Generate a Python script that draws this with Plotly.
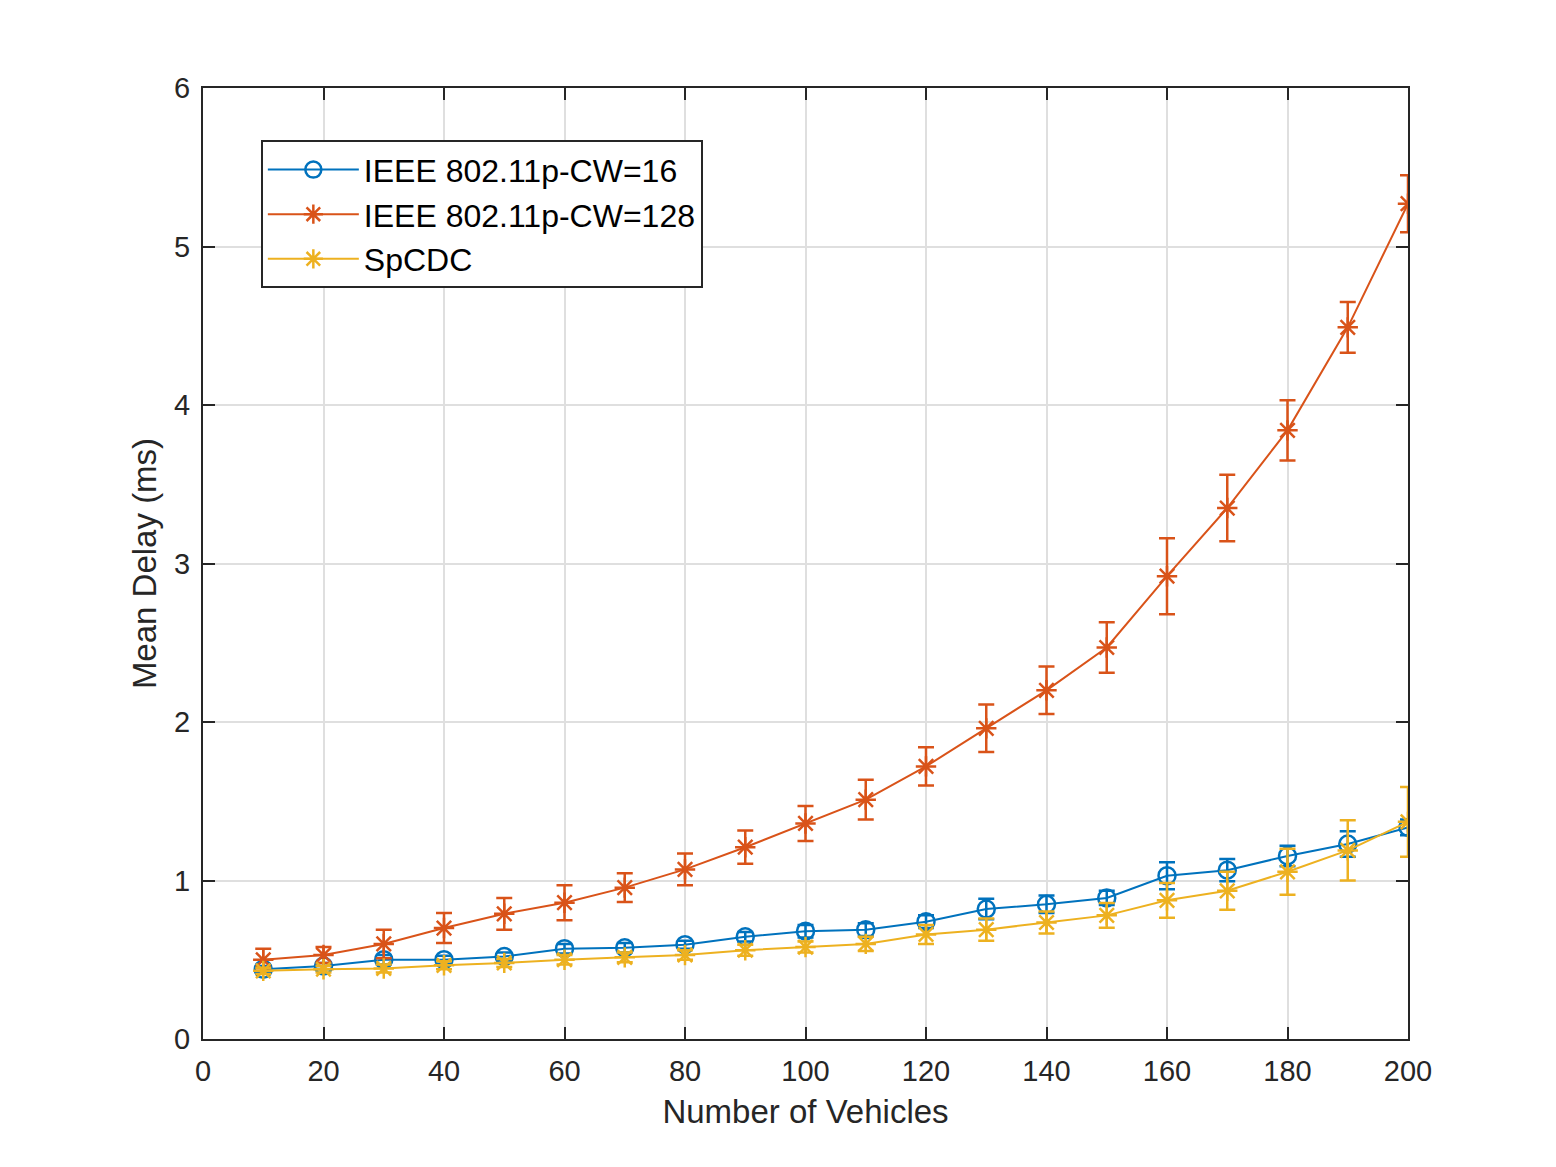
import plotly.graph_objects as go

vehicles = [10, 20, 30, 40, 50, 60, 70, 80, 90, 100, 110, 120, 130, 140, 150, 160, 170, 180, 190, 200]

cw16_delay = [0.44, 0.46, 0.50, 0.50, 0.52, 0.57, 0.575, 0.595, 0.645, 0.68,
              0.69, 0.74, 0.82, 0.85, 0.89, 1.03, 1.065, 1.155, 1.23, 1.335]
cw16_err = [0.02, 0.02, 0.03, 0.025, 0.025, 0.03, 0.03, 0.025, 0.03, 0.04,
            0.04, 0.04, 0.065, 0.055, 0.045, 0.085, 0.07, 0.065, 0.08, 0.05]

cw128_delay = [0.50, 0.53, 0.60, 0.70, 0.79, 0.86, 0.955, 1.07, 1.21, 1.36,
               1.51, 1.72, 1.96, 2.20, 2.47, 2.92, 3.35, 3.84, 4.49, 5.27]
cw128_err = [0.07, 0.05, 0.09, 0.095, 0.10, 0.11, 0.09, 0.10, 0.105, 0.11,
             0.125, 0.12, 0.15, 0.15, 0.16, 0.24, 0.21, 0.19, 0.16, 0.18]

spcdc_delay = [0.43, 0.44, 0.445, 0.465, 0.48, 0.50, 0.515, 0.53, 0.56, 0.58,
               0.60, 0.66, 0.69, 0.735, 0.78, 0.875, 0.935, 1.055, 1.19, 1.37]
spcdc_err = [0.02, 0.02, 0.025, 0.025, 0.025, 0.03, 0.03, 0.03, 0.035, 0.035,
             0.045, 0.06, 0.07, 0.07, 0.078, 0.11, 0.12, 0.145, 0.19, 0.22]

series = [
    ("IEEE 802.11p-CW=16", cw16_delay, cw16_err, "#0072BD", "circle-open"),
    ("IEEE 802.11p-CW=128", cw128_delay, cw128_err, "#D95319", "asterisk-open"),
    ("SpCDC", spcdc_delay, spcdc_err, "#EDB120", "asterisk-open"),
]

FONT = "Liberation Sans, Arial, Helvetica, sans-serif"

fig = go.Figure()
for name, y, err, color, symbol in series:
    fig.add_trace(go.Scatter(
        x=vehicles,
        y=y,
        mode="lines+markers",
        name=name,
        line=dict(color=color, width=2),
        marker=dict(symbol=symbol, size=17, color=color, line=dict(color=color, width=2.5)),
        error_y=dict(type="data", array=err, visible=True, color=color, thickness=2.5, width=8),
    ))

axis_common = dict(
    showline=True, linecolor="#262626", linewidth=2, mirror="ticks",
    ticks="inside", ticklen=12, tickwidth=2, tickcolor="#262626",
    showgrid=True, gridcolor="#dfdfdf", gridwidth=2, zeroline=False,
    tickfont=dict(family=FONT, size=29, color="#262626"),
    ticklabelstandoff=5,
)

fig.update_xaxes(
    range=[0, 200], dtick=20, tick0=0,
    title=dict(text="Number of Vehicles", font=dict(family=FONT, size=33, color="#262626"), standoff=14),
    **axis_common,
)
fig.update_yaxes(
    range=[0, 6], dtick=1, tick0=0,
    title=dict(text="Mean Delay (ms)", font=dict(family=FONT, size=33, color="#262626"), standoff=8),
    **axis_common,
)

fig.update_layout(
    width=1556,
    height=1167,
    margin=dict(l=195, r=156, t=80, b=136),
    paper_bgcolor="white",
    plot_bgcolor="white",
    font=dict(family=FONT, color="#000000"),
    legend=dict(
        x=0.048, y=0.945, xanchor="left", yanchor="top",
        bgcolor="white", bordercolor="#262626", borderwidth=2,
        font=dict(family=FONT, size=32, color="#000000"),
        itemwidth=91, tracegroupgap=0,
    ),
)

fig.write_html("out.html")
